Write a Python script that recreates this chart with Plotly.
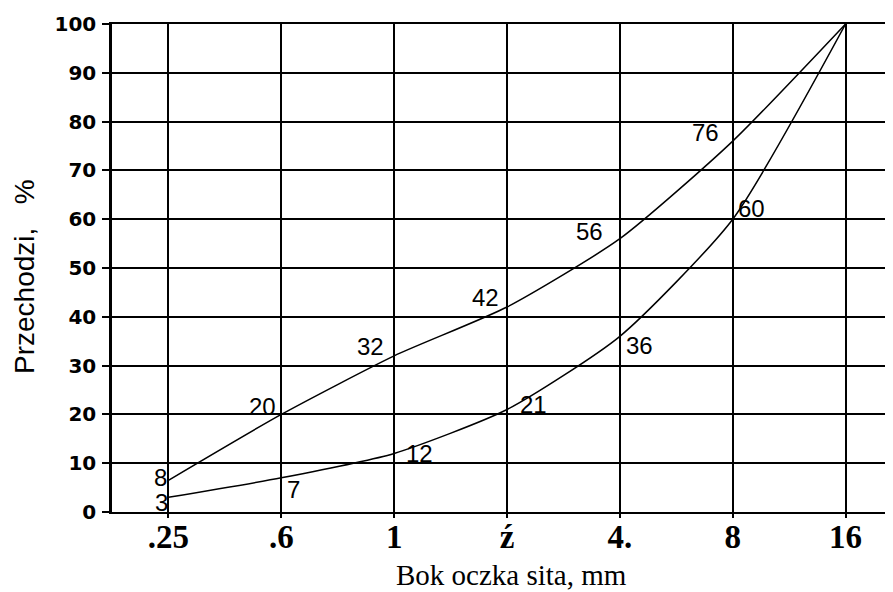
import plotly.graph_objects as go

# ---- data ----
sieve_labels = [".25", ".6", "1", "ź", "4.", "8", "16"]
upper_values = [6.5, 20, 32, 42, 56, 76, 100]
upper_text = ["8", "20", "32", "42", "56", "76", ""]
lower_values = [3, 7, 12, 21, 36, 60, 100]
lower_text = ["3", "7", "12", "21", "36", "60", ""]
y_ticks = [0, 10, 20, 30, 40, 50, 60, 70, 80, 90, 100]
x_title = "Bok oczka sita, mm"
y_title = "Przechodzi,   %"

x_pos = list(range(len(sieve_labels)))

fig = go.Figure()
line_style = dict(color="black", width=1.5, shape="spline", smoothing=0.6)
fig.add_trace(go.Scatter(x=x_pos, y=upper_values, mode="lines", line=line_style,
                         showlegend=False, hoverinfo="skip"))
fig.add_trace(go.Scatter(x=x_pos, y=lower_values, mode="lines", line=line_style,
                         showlegend=False, hoverinfo="skip"))

# label offsets in pixels (style, not data)
upper_off = [(-8, 3), (-19, 8), (-24, 9), (-22, 10), (-30, 7), (-27, 9), (0, 0)]
lower_off = [(-7, -5), (12, -12), (25, 0), (26, 5), (20, -9), (19, 11), (0, 0)]

lab_font = dict(family="Liberation Sans, Arial, sans-serif", size=24, color="black")
for vals, texts, offs in ((upper_values, upper_text, upper_off),
                          (lower_values, lower_text, lower_off)):
    for xi, yv, t, (dx, dy) in zip(x_pos, vals, texts, offs):
        if not t:
            continue
        fig.add_annotation(x=xi, y=yv, text=t, showarrow=False, xshift=dx, yshift=dy,
                           font=lab_font, xanchor="center", yanchor="middle",
                           borderpad=0)

# axis titles as annotations for precise placement
fig.add_annotation(xref="paper", yref="paper", x=0.511, y=0, yshift=-63,
                   text=x_title, showarrow=False, xanchor="center", yanchor="middle",
                   font=dict(family="Liberation Serif, Times New Roman, serif", size=29,
                             color="black"))
fig.add_annotation(xref="paper", yref="paper", x=0, y=0.5, xshift=-88, yshift=-9,
                   text=y_title, textangle=-90, showarrow=False,
                   xanchor="center", yanchor="middle",
                   font=dict(family="Liberation Sans, Arial, sans-serif", size=28,
                             color="black"))

# the page body adds an 8px offset; margins compensate for it
fig.update_layout(
    width=893, height=592,
    margin=dict(l=104, r=8, t=16, b=88),
    plot_bgcolor="white", paper_bgcolor="white",
    xaxis=dict(
        range=[-0.5, 6.42], tickmode="array", tickvals=x_pos, ticktext=sieve_labels,
        showgrid=True, gridcolor="black", gridwidth=1.8, zeroline=False,
        showline=True, linecolor="black", linewidth=2, mirror=True,
        ticks="outside", ticklen=4, tickcolor="black", tickwidth=1.5,
        ticklabelstandoff=-10, automargin=False,
        tickfont=dict(family="Liberation Serif, Times New Roman, serif", size=33,
                      color="black", weight="bold"),
    ),
    yaxis=dict(
        range=[0, 100], tickmode="array", tickvals=y_ticks,
        showgrid=True, gridcolor="black", gridwidth=1.8, zeroline=False,
        showline=True, linecolor="black", linewidth=2.5,
        ticks="outside", ticklen=7, tickcolor="black", tickwidth=1.5,
        ticklabelstandoff=2, automargin=False,
        tickfont=dict(family="DejaVu Sans, sans-serif", size=20,
                      color="black", weight="bold"),
    ),
)

fig.write_html("out.html")
